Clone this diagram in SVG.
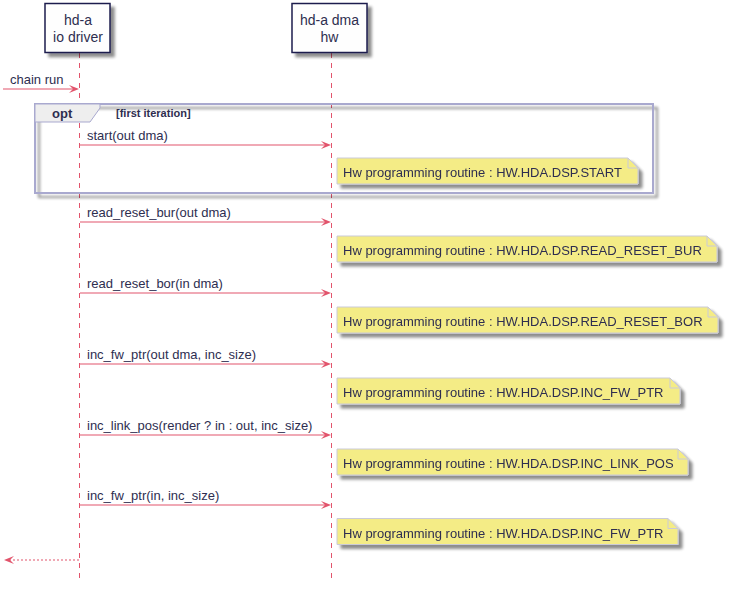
<svg xmlns="http://www.w3.org/2000/svg" width="729" height="589" viewBox="0 0 729 589">
<defs>
<filter id="sh" x="-10%" y="-10%" width="130%" height="160%">
<feGaussianBlur in="SourceAlpha" stdDeviation="1.5"/>
<feOffset dx="4" dy="4" result="b"/>
<feComponentTransfer><feFuncA type="linear" slope="0.45"/></feComponentTransfer>
<feMerge><feMergeNode/><feMergeNode in="SourceGraphic"/></feMerge>
</filter>
<path id="ahr" d="M-10,-4 L0,0 L-10,4 L-6,0 Z" fill="#E2546C"/>
<path id="ahl" d="M10,-4 L0,0 L10,4 L6,0 Z" fill="#E2546C"/>
</defs>
<style>
text{font-family:"Liberation Sans",Arial,sans-serif;fill:#2E2E50}
.p{font-size:14px;text-anchor:middle}
.m{font-size:13px}
.n{font-size:13px}
.life{stroke:#E2546C;stroke-width:1;stroke-dasharray:5,5;fill:none}
.msg{stroke:#E2546C;stroke-width:1.2;fill:none}
.ret{stroke:#E2546C;stroke-width:1.2;stroke-dasharray:2,2;fill:none}
.pbox{fill:#FEFEFE;stroke:#1E1E4E;stroke-width:1.5}
.note{fill:#F4EC86;stroke:#CACAD8;stroke-width:1}
.fold{fill:none;stroke:#CACAD8;stroke-width:1}
</style>
<rect width="729" height="589" fill="#FFFFFF"/>
<g id="lifelines">
<line class="life" x1="79.5" y1="53" x2="79.5" y2="579"/>
<line class="life" x1="331.5" y1="53" x2="331.5" y2="579"/>
</g>
<g id="p1">
<rect class="pbox" x="45" y="3.5" width="65" height="49" filter="url(#sh)"/>
<text class="p" x="78" y="25">hd-a</text>
<text class="p" x="78" y="42">io driver</text>
</g>
<g id="p2">
<rect class="pbox" x="292" y="3.5" width="75" height="49" filter="url(#sh)"/>
<text class="p" x="329.5" y="25">hd-a dma</text>
<text class="p" x="329.5" y="42">hw</text>
</g>
<g id="opt">
<rect x="35" y="104" width="618" height="89" fill="none" stroke="#A9A9CF" stroke-width="2" filter="url(#sh)"/>
<path d="M35,104 L100,104 L100,108 L90,122 L35,122 Z" fill="#EEEEEE" stroke="#A9A9CF" stroke-width="1"/>
<text x="52" y="118" style="font-size:13px;font-weight:bold">opt</text>
<text x="116" y="117" style="font-size:11px;font-weight:bold">[first iteration]</text>
</g>
<g id="connectors">
<line class="msg" x1="3" y1="89" x2="76" y2="89"/>
<use href="#ahr" x="79" y="89"/>
<text class="m" x="10" y="84">chain run</text>
<line class="msg" x1="80" y1="145" x2="328" y2="145"/>
<use href="#ahr" x="331" y="145"/>
<text class="m" x="87" y="140">start(out dma)</text>
<line class="msg" x1="80" y1="222" x2="328" y2="222"/>
<use href="#ahr" x="331" y="222"/>
<text class="m" x="87" y="217">read_reset_bur(out dma)</text>
<line class="msg" x1="80" y1="293" x2="328" y2="293"/>
<use href="#ahr" x="331" y="293"/>
<text class="m" x="87" y="288">read_reset_bor(in dma)</text>
<line class="msg" x1="80" y1="364" x2="328" y2="364"/>
<use href="#ahr" x="331" y="364"/>
<text class="m" x="87" y="359">inc_fw_ptr(out dma, inc_size)</text>
<line class="msg" x1="80" y1="435" x2="328" y2="435"/>
<use href="#ahr" x="331" y="435"/>
<text class="m" x="87" y="430">inc_link_pos(render ? in : out, inc_size)</text>
<line class="msg" x1="80" y1="505" x2="328" y2="505"/>
<use href="#ahr" x="331" y="505"/>
<text class="m" x="87" y="500">inc_fw_ptr(in, inc_size)</text>
<line class="ret" x1="79" y1="560" x2="8" y2="560"/>
<use href="#ahl" x="4" y="560"/>
</g>
<g id="note1" filter="url(#sh)">
<path class="note" d="M337,158 L628,158 L638,168 L638,184 L337,184 Z"/>
<path class="fold" d="M628,158 L628,168 L638,168"/>
<text class="n" x="343" y="177">Hw programming routine : HW.HDA.DSP.START</text>
</g>
<g id="note2" filter="url(#sh)">
<path class="note" d="M337,236 L707,236 L717,246 L717,262 L337,262 Z"/>
<path class="fold" d="M707,236 L707,246 L717,246"/>
<text class="n" x="343" y="255">Hw programming routine : HW.HDA.DSP.READ_RESET_BUR</text>
</g>
<g id="note3" filter="url(#sh)">
<path class="note" d="M337,307 L708,307 L718,317 L718,333 L337,333 Z"/>
<path class="fold" d="M708,307 L708,317 L718,317"/>
<text class="n" x="343" y="326">Hw programming routine : HW.HDA.DSP.READ_RESET_BOR</text>
</g>
<g id="note4" filter="url(#sh)">
<path class="note" d="M337,378 L670,378 L680,388 L680,404 L337,404 Z"/>
<path class="fold" d="M670,378 L670,388 L680,388"/>
<text class="n" x="343" y="397">Hw programming routine : HW.HDA.DSP.INC_FW_PTR</text>
</g>
<g id="note5" filter="url(#sh)">
<path class="note" d="M337,449 L678,449 L688,459 L688,475 L337,475 Z"/>
<path class="fold" d="M678,449 L678,459 L688,459"/>
<text class="n" x="343" y="468">Hw programming routine : HW.HDA.DSP.INC_LINK_POS</text>
</g>
<g id="note6" filter="url(#sh)">
<path class="note" d="M337,518.5 L668,518.5 L678,528.5 L678,544.5 L337,544.5 Z"/>
<path class="fold" d="M668,518.5 L668,528.5 L678,528.5"/>
<text class="n" x="343" y="537.5">Hw programming routine : HW.HDA.DSP.INC_FW_PTR</text>
</g>
</svg>
